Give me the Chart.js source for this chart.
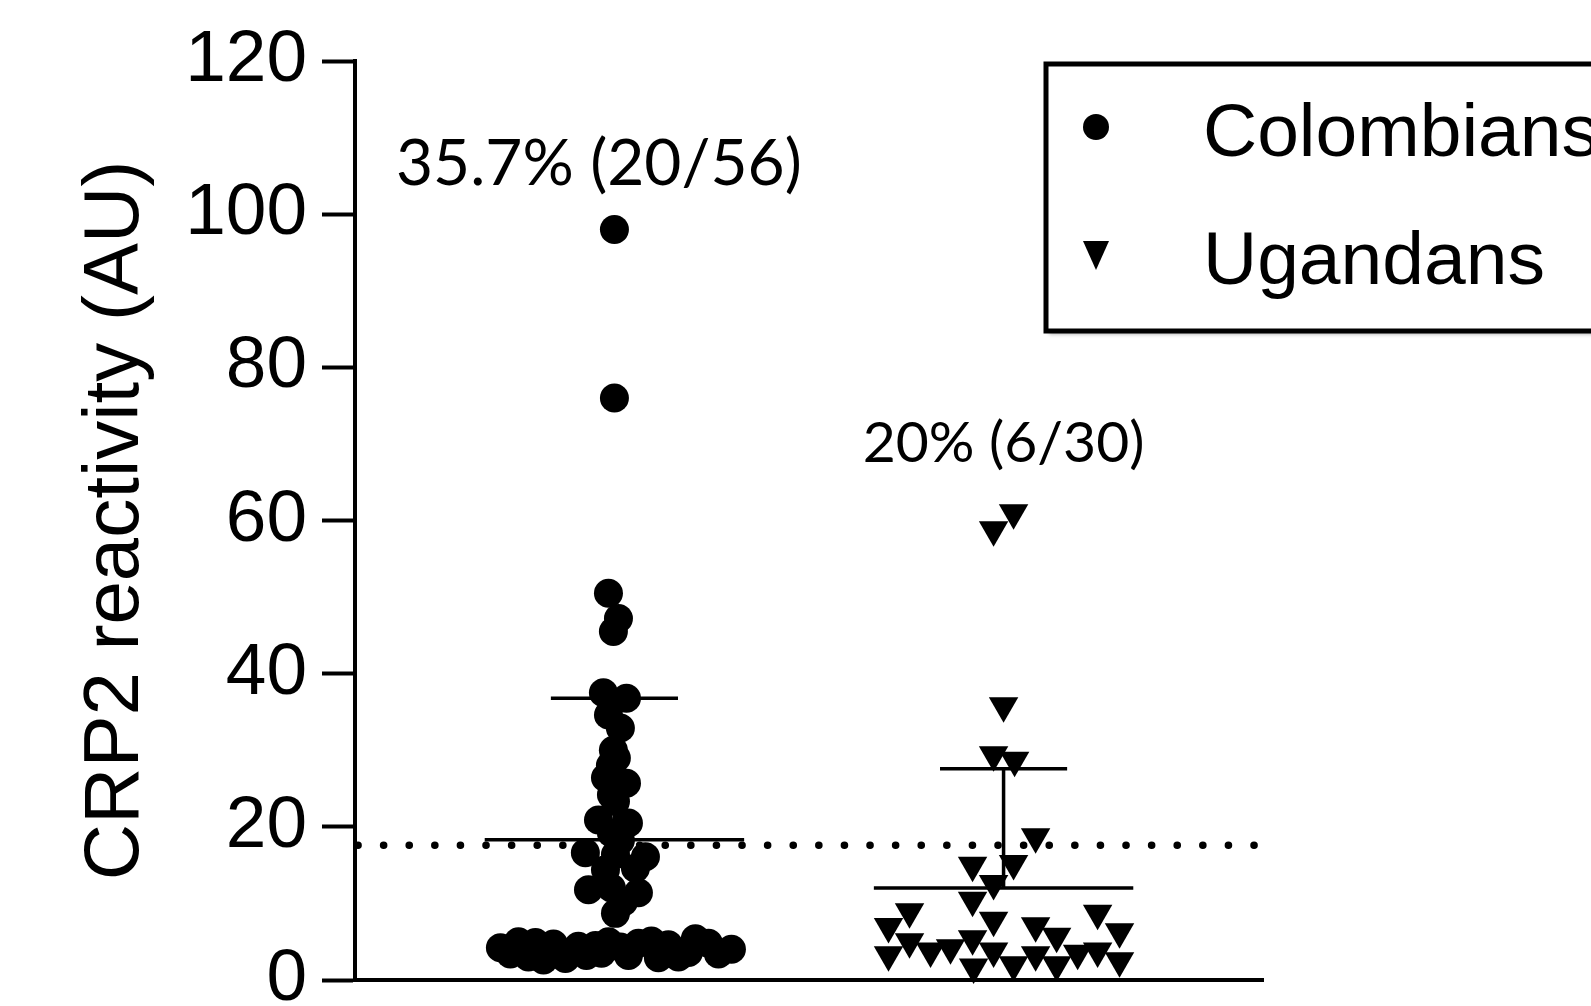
<!DOCTYPE html>
<html>
<head>
<meta charset="utf-8">
<script src="https://cdn.jsdelivr.net/npm/chart.js@4.4.0/dist/chart.umd.min.js"></script>
<style>
    html, body { margin: 0; padding: 0; background: #fff; }
</style>
</head>
<body>
<canvas id="crpChart" width="1591" height="1006"></canvas>
<script>
// data
const groups = ['Colombians', 'Ugandans'];
const groupX = [2, 5];
const yTicks = [0, 20, 40, 60, 80, 100, 120];

const colX = [
    2.000, 2.000, 1.954, 2.031, 1.992, 1.915, 2.093, 1.954, 2.046, 1.992,
    2.015, 1.969, 1.931, 2.093, 1.977, 2.008, 1.877, 2.108, 1.977, 2.046,
    1.776, 2.239, 2.008, 1.931, 2.162, 1.800, 2.185, 1.977, 2.008, 2.069,
    1.121, 1.260, 1.391, 1.530, 1.722, 1.854, 1.954, 2.046, 2.185, 2.285,
    2.416, 2.624, 2.725, 2.902,
    1.198, 1.337, 1.453, 1.622, 1.684, 1.784, 1.900, 2.108, 2.339, 2.493,
    2.571, 2.802
];
const colY = [
    98.0, 76.0, 50.5, 47.2, 45.5, 37.5, 36.8, 34.6, 32.9, 30.0,
    29.0, 28.0, 26.4, 25.7, 24.2, 23.3, 20.9, 20.5, 19.2, 18.2,
    16.6, 16.1, 16.4, 14.4, 14.6, 11.8, 11.4, 12.0, 8.7, 10.2,
    4.2, 5.0, 4.9, 4.7, 4.4, 4.5, 5.0, 4.3, 4.8, 5.1,
    4.6, 5.4, 4.8, 4.0,
    3.4, 3.0, 2.6, 2.8, 3.8, 3.2, 3.5, 3.2, 2.9, 3.0,
    3.6, 3.4
];

const ugaX = [
    5.077, 4.923, 5.000, 4.923, 5.085, 5.247,
    4.761, 5.077, 4.923, 4.761, 4.275, 5.725,
    4.113, 4.923, 5.247, 5.409, 5.894, 4.275,
    4.761, 4.437, 4.591, 4.113, 4.923, 5.077,
    4.769, 5.247, 5.409, 5.571, 5.725, 5.894
];
const ugaY = [
    61.0, 58.8, 35.8, 29.4, 28.7, 18.7,
    15.0, 15.2, 12.6, 10.4, 8.9, 8.7,
    7.0, 7.8, 7.1, 5.7, 6.3, 5.0,
    5.4, 3.8, 4.2, 3.3, 3.8, 2.0,
    1.7, 3.3, 2.0, 3.5, 3.8, 2.5
];

const groupMean = [18.3, 12.0];
const groupUpper = [36.8, 27.6];
const cutoff = 17.6;
const positivity = ['35.7% (20/56)', '20% (6/30)'];
const labelAt = [[1.88, 103.8], [5.0, 67.7]];

const FONT = '"Liberation Sans", Arial, sans-serif';

function toPoints(xs, ys) {
    return xs.map((x, i) => ({ x: x, y: ys[i] }));
}

// mean bar + upper SD whisker, broken with null gaps
function meanSd(i) {
    const gx = groupX[i], m = groupMean[i], up = groupUpper[i];
    return [
        { x: gx - 1.0, y: m }, { x: gx + 1.0, y: m }, { x: gx, y: null },
        { x: gx, y: m }, { x: gx, y: up }, { x: gx, y: null },
        { x: gx - 0.49, y: up }, { x: gx + 0.49, y: up }
    ];
}

const lineStyle = {
    type: 'scatter',
    showLine: true,
    spanGaps: false,
    borderColor: '#000',
    borderWidth: 3.5,
    pointRadius: 0,
    clip: false,
    order: 2
};

const annotations = {
    id: 'annotations',
    afterDatasetsDraw(chart) {
        const ctx = chart.ctx;
        const xs = chart.scales.x, ys = chart.scales.y;
        const sizes = [64, 57];
        ctx.save();
        ctx.fillStyle = '#000';
        ctx.textAlign = 'center';
        ctx.textBaseline = 'alphabetic';
        positivity.forEach((t, i) => {
            ctx.font = sizes[i] + 'px Lato, "Open Sans", sans-serif';
            ctx.fillText(t, xs.getPixelForValue(labelAt[i][0]), ys.getPixelForValue(labelAt[i][1]));
        });
        ctx.restore();
    }
};

const legendBox = {
    id: 'legendBox',
    afterDraw(chart) {
        const ctx = chart.ctx;
        ctx.save();
        ctx.shadowColor = 'rgba(0,0,0,0.35)';
        ctx.shadowBlur = 4;
        ctx.shadowOffsetX = 3;
        ctx.shadowOffsetY = 3;
        ctx.fillStyle = '#fff';
        ctx.fillRect(1046, 64, 600, 267);
        ctx.shadowColor = 'transparent';
        ctx.lineWidth = 5;
        ctx.strokeStyle = '#000';
        ctx.strokeRect(1046, 64, 600, 267);

        ctx.fillStyle = '#000';
        ctx.beginPath();
        ctx.arc(1096, 127, 13, 0, Math.PI * 2);
        ctx.fill();
        ctx.beginPath();
        ctx.moveTo(1083, 241);
        ctx.lineTo(1109, 241);
        ctx.lineTo(1096, 270);
        ctx.closePath();
        ctx.fill();

        ctx.font = '75px ' + FONT;
        ctx.textAlign = 'left';
        ctx.textBaseline = 'alphabetic';
        ctx.fillText(groups[0], 1203, 156);
        ctx.fillText(groups[1], 1203, 284);
        ctx.restore();
    }
};

const ctx = document.getElementById('crpChart').getContext('2d');
new Chart(ctx, {
    type: 'scatter',
    data: {
        datasets: [
            {
                label: groups[0],
                data: toPoints(colX, colY),
                pointStyle: 'circle',
                pointRadius: 14.5,
                backgroundColor: '#000',
                borderColor: '#000',
                borderWidth: 0,
                clip: false,
                order: 0
            },
            {
                label: groups[1],
                data: toPoints(ugaX, ugaY),
                pointStyle: 'triangle',
                rotation: 180,
                pointRadius: 17,
                backgroundColor: '#000',
                borderColor: '#000',
                borderWidth: 0,
                clip: false,
                order: 0
            },
            Object.assign({ label: 'mean Col', data: meanSd(0) }, lineStyle),
            Object.assign({ label: 'mean Uga', data: meanSd(1) }, lineStyle),
            {
                type: 'scatter',
                label: 'cutoff',
                data: [{ x: 0.023, y: cutoff }, { x: 6.97, y: cutoff }],
                showLine: true,
                borderColor: '#000',
                borderWidth: 7.5,
                borderDash: [0.1, 25.5],
                borderCapStyle: 'round',
                pointRadius: 0,
                clip: false,
                order: 3
            }
        ]
    },
    options: {
        responsive: false,
        devicePixelRatio: 1,
        animation: false,
        layout: {
            padding: { top: 61, right: 328, bottom: 0, left: 0 }
        },
        plugins: {
            legend: { display: false },
            tooltip: { enabled: false }
        },
        scales: {
            x: {
                type: 'linear',
                min: 0,
                max: 7,
                grid: { display: false, drawTicks: false },
                ticks: { display: false },
                border: { display: true, color: '#000', width: 4 },
                afterFit(scale) {
                    scale.height = 26;
                    scale.paddingLeft = 0;
                    scale.paddingRight = 0;
                }
            },
            y: {
                type: 'linear',
                min: 0,
                max: 120,
                afterBuildTicks(scale) {
                    scale.ticks = yTicks.map(v => ({ value: v }));
                },
                grid: {
                    drawOnChartArea: false,
                    drawTicks: true,
                    tickLength: 33,
                    tickWidth: 4,
                    tickColor: '#000'
                },
                border: { display: true, color: '#000', width: 4 },
                ticks: {
                    color: '#000',
                    padding: 15,
                    font: { family: FONT, size: 73 }
                },
                title: {
                    display: true,
                    text: 'CRP2 reactivity (AU)',
                    color: '#000',
                    font: { family: FONT, size: 78 },
                    padding: { top: 70, bottom: 0 }
                },
                afterFit(scale) {
                    scale.width = 355;
                    scale.paddingTop = 0;
                    scale.paddingBottom = 0;
                }
            }
        }
    },
    plugins: [annotations, legendBox]
});
</script>
</body>
</html>
